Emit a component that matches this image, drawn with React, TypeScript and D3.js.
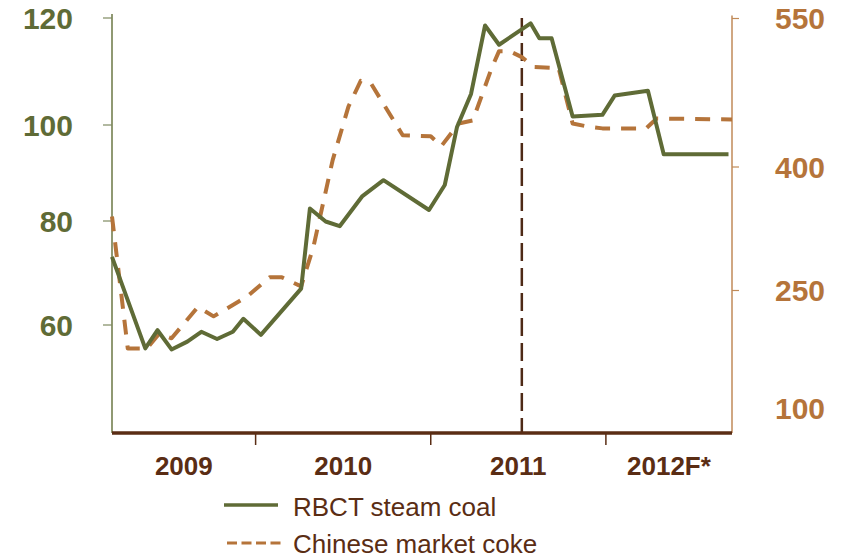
import { useEffect, useRef } from 'react';
import * as d3 from 'd3';

// RBCT steam coal, USD/t (left axis)
const coalYears = [
  2009.18, 2009.37, 2009.44, 2009.52, 2009.61, 2009.69, 2009.78, 2009.87, 2009.93, 2010.03,
  2010.26, 2010.31, 2010.4, 2010.48, 2010.61, 2010.73, 2010.99, 2011.08, 2011.15, 2011.23,
  2011.31, 2011.39, 2011.57, 2011.62, 2011.69, 2011.81, 2011.98, 2012.05, 2012.24, 2012.33, 2012.7,
];
const coalPrices = [
  73.1, 55.5, 59.0, 55.3, 56.8, 58.7, 57.3, 58.7, 61.2, 58.1,
  67.0, 82.6, 79.9, 79.0, 85.2, 88.5, 82.3, 87.5, 99.6, 105.8,
  118.6, 115.0, 119.0, 116.2, 116.2, 101.6, 101.9, 105.5, 106.4, 93.9, 93.9,
];

// Chinese market coke, USD/t (right axis)
const cokeYears = [
  2009.18, 2009.27, 2009.38, 2009.45, 2009.52, 2009.67, 2009.76, 2009.95, 2010.08, 2010.15,
  2010.26, 2010.33, 2010.44, 2010.53, 2010.6, 2010.66, 2010.84, 2011.0, 2011.06, 2011.16,
  2011.24, 2011.35, 2011.39, 2011.45, 2011.52, 2011.59, 2011.73, 2011.81, 2011.89, 2011.98,
  2012.23, 2012.29, 2012.72,
];
const cokePrices = [
  340, 176, 176, 195, 189, 229, 217, 242, 266, 266,
  255, 303, 407, 461, 487, 484, 432, 431, 421, 444,
  447, 501, 517, 517, 511, 501, 500, 444, 441, 439,
  439, 449, 448,
];

const yearLabels = ['2009', '2010', '2011', '2012F*'];
const yearStarts = [2009, 2010, 2011, 2012];
const leftTicks = [60, 80, 100, 120];
const rightTicks = [100, 250, 400, 550];
const forecastYear = 2011.52;

const GREEN = '#5f6b36';
const ORANGE = '#b5743a';
const BROWN = '#5a2d14';
const FONT = '"Liberation Sans", Arial, sans-serif';

const Chart = ({ width = 842, height = 558 }) => {
  const svgRef = useRef<SVGSVGElement>(null);

  useEffect(() => {
    if (!svgRef.current) return;
    d3.select(svgRef.current).selectAll('*').remove();

    const svg = d3
      .select(svgRef.current)
      .attr('width', width)
      .attr('height', height)
      .style('font-family', FONT);

    const left = 112;
    const right = 732;
    const top = 14;
    const bottom = 433;

    const x = d3.scaleLinear().domain([2009.18, 2012.72]).range([left, right]);
    // the original axes are not evenly spaced, so each tick keeps its own position
    const yLeft = d3.scaleLinear().domain(leftTicks).range([325, 221, 125, 18]);
    const yRight = d3.scaleLinear().domain(rightTicks).range([408, 290.5, 167, 18.5]);

    // left axis
    svg.append('line')
      .attr('x1', left).attr('x2', left)
      .attr('y1', top).attr('y2', bottom)
      .attr('stroke', '#6b7745').attr('stroke-width', 1.5);
    svg.selectAll('.ltick')
      .data(leftTicks)
      .enter()
      .append('line')
      .attr('x1', left - 9).attr('x2', left)
      .attr('y1', (d) => yLeft(d)).attr('y2', (d) => yLeft(d))
      .attr('stroke', '#7f8a62').attr('stroke-width', 1.2);
    svg.selectAll('.llabel')
      .data(leftTicks)
      .enter()
      .append('text')
      .attr('x', 73)
      .attr('y', (d) => yLeft(d))
      .attr('dy', '0.36em')
      .attr('text-anchor', 'end')
      .attr('font-size', 30)
      .attr('font-weight', 700)
      .attr('fill', GREEN)
      .text((d) => d);

    // right axis
    svg.append('line')
      .attr('x1', right).attr('x2', right)
      .attr('y1', 15.5).attr('y2', bottom)
      .attr('stroke', '#c08a58').attr('stroke-width', 1.5);
    svg.selectAll('.rtick')
      .data(rightTicks.slice(1))
      .enter()
      .append('line')
      .attr('x1', right).attr('x2', right + 7)
      .attr('y1', (d) => yRight(d)).attr('y2', (d) => yRight(d))
      .attr('stroke', '#c08a58').attr('stroke-width', 1.2);
    svg.selectAll('.rlabel')
      .data(rightTicks)
      .enter()
      .append('text')
      .attr('x', 775)
      .attr('y', (d) => yRight(d))
      .attr('dy', '0.36em')
      .attr('font-size', 30)
      .attr('font-weight', 700)
      .attr('fill', ORANGE)
      .text((d) => d);

    // forecast divider
    svg.append('line')
      .attr('x1', x(forecastYear)).attr('x2', x(forecastYear))
      .attr('y1', 18).attr('y2', bottom)
      .attr('stroke', '#4e2a16').attr('stroke-width', 2.5)
      .attr('stroke-dasharray', '18,7');

    // x axis
    svg.append('line')
      .attr('x1', left).attr('x2', right)
      .attr('y1', bottom).attr('y2', bottom)
      .attr('stroke', BROWN).attr('stroke-width', 3.5);
    svg.selectAll('.xtick')
      .data(yearStarts.slice(1))
      .enter()
      .append('line')
      .attr('x1', (d) => x(d)).attr('x2', (d) => x(d))
      .attr('y1', bottom).attr('y2', 445)
      .attr('stroke', BROWN).attr('stroke-width', 1.5);
    svg.selectAll('.xlabel')
      .data(yearLabels)
      .enter()
      .append('text')
      .attr('x', (_, i) => {
        const a = Math.max(x(yearStarts[i]), left);
        const b = Math.min(x(yearStarts[i] + 1), right);
        return (a + b) / 2;
      })
      .attr('y', 475)
      .attr('text-anchor', 'middle')
      .attr('font-size', 26)
      .attr('font-weight', 700)
      .attr('fill', BROWN)
      .text((d) => d);

    // series
    const cokeLine = d3
      .line<number>()
      .x((_, i) => x(cokeYears[i]))
      .y((d) => yRight(d));
    svg.append('path')
      .attr('d', cokeLine(cokePrices))
      .attr('fill', 'none')
      .attr('stroke', ORANGE)
      .attr('stroke-width', 4)
      .attr('stroke-dasharray', '15,11')
      .attr('stroke-linejoin', 'round');

    const coalLine = d3
      .line<number>()
      .x((_, i) => x(coalYears[i]))
      .y((d) => yLeft(d));
    svg.append('path')
      .attr('d', coalLine(coalPrices))
      .attr('fill', 'none')
      .attr('stroke', GREEN)
      .attr('stroke-width', 4)
      .attr('stroke-linejoin', 'round');

    // legend
    const legend = svg.append('g');
    legend.append('line')
      .attr('x1', 224).attr('x2', 278)
      .attr('y1', 505).attr('y2', 505)
      .attr('stroke', GREEN).attr('stroke-width', 3.5);
    legend.append('text')
      .attr('x', 293).attr('y', 516)
      .attr('font-size', 26)
      .attr('fill', BROWN)
      .text('RBCT steam coal');
    legend.append('line')
      .attr('x1', 227).attr('x2', 281)
      .attr('y1', 543).attr('y2', 543)
      .attr('stroke', ORANGE).attr('stroke-width', 3)
      .attr('stroke-dasharray', '10,4.5');
    legend.append('text')
      .attr('x', 293).attr('y', 553)
      .attr('font-size', 26)
      .attr('fill', BROWN)
      .text('Chinese market coke');
  }, [width, height]);

  return <svg ref={svgRef} style={{ position: 'absolute', left: 0, top: 0 }} />;
};

export default function App() {
  return <Chart />;
}
